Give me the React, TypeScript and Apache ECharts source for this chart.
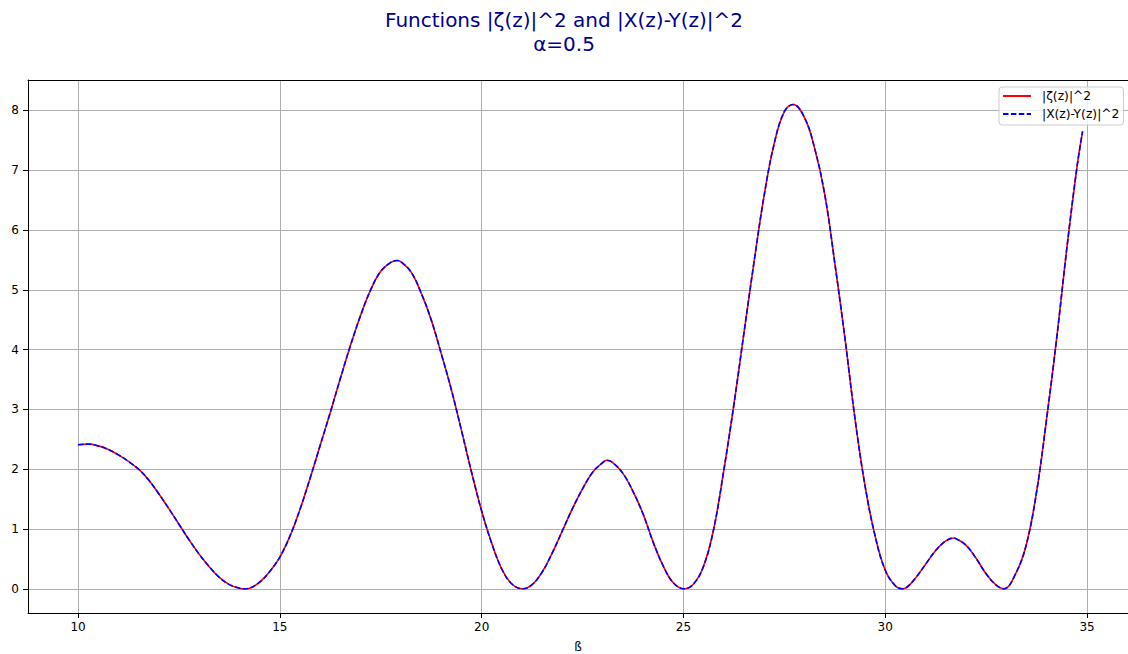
import React, { useEffect, useRef } from "react";
import * as echarts from "echarts";

// β values (x)
const beta = [
  10.0, 10.25, 10.5, 10.75, 11.0, 11.25, 11.5, 11.75, 12.0, 12.25, 12.5, 12.75,
  13.0, 13.25, 13.5, 13.75, 14.0, 14.13, 14.25, 14.5, 14.75, 15.0, 15.25, 15.5,
  15.75, 16.0, 16.25, 16.5, 16.75, 17.0, 17.25, 17.5, 17.75, 17.9, 18.0, 18.25,
  18.5, 18.75, 19.0, 19.25, 19.5, 19.75, 20.0, 20.25, 20.5, 20.75, 21.02, 21.25,
  21.5, 21.75, 22.0, 22.25, 22.5, 22.75, 23.0, 23.1, 23.25, 23.5, 23.75, 24.0,
  24.25, 24.5, 24.75, 25.01, 25.25, 25.5, 25.75, 26.0, 26.25, 26.5, 26.75, 27.0,
  27.25, 27.5, 27.72, 28.0, 28.25, 28.5, 28.75, 29.0, 29.25, 29.5, 29.75, 30.0,
  30.25, 30.42, 30.5, 30.75, 31.0, 31.25, 31.5, 31.7, 31.75, 32.0, 32.25, 32.5,
  32.75, 32.94, 33.25, 33.5, 33.75, 34.0, 34.25, 34.5, 34.75, 34.89,
];

// |ζ(z)|^2 values
const zetaSq = [
  2.41, 2.42, 2.39, 2.33, 2.24, 2.13, 2.0, 1.82, 1.59, 1.34, 1.08, 0.82,
  0.58, 0.37, 0.19, 0.07, 0.01, 0.0, 0.01, 0.11, 0.29, 0.53, 0.88, 1.33,
  1.85, 2.4, 2.95, 3.52, 4.07, 4.57, 5.0, 5.31, 5.46, 5.49, 5.47, 5.3,
  4.95, 4.5, 3.93, 3.33, 2.65, 1.95, 1.3, 0.76, 0.33, 0.08, 0.0, 0.07,
  0.28, 0.6, 0.97, 1.34, 1.67, 1.95, 2.11, 2.15, 2.11, 1.93, 1.63, 1.25,
  0.78, 0.38, 0.1, 0.0, 0.08, 0.38, 1.0, 1.98, 3.08, 4.28, 5.47, 6.58,
  7.45, 7.98, 8.1, 7.88, 7.37, 6.6, 5.45, 4.2, 2.85, 1.72, 0.88, 0.31,
  0.05, 0.0, 0.01, 0.18, 0.41, 0.64, 0.8, 0.85, 0.84, 0.73, 0.51, 0.25,
  0.06, 0.0, 0.28, 0.75, 1.62, 2.85, 4.2, 5.7, 7.05, 7.65,
];

// |X(z)-Y(z)|^2 values (coincide with the red curve)
const xyDiffSq = [
  2.41, 2.42, 2.39, 2.33, 2.24, 2.13, 2.0, 1.82, 1.59, 1.34, 1.08, 0.82,
  0.58, 0.37, 0.19, 0.07, 0.01, 0.0, 0.01, 0.11, 0.29, 0.53, 0.88, 1.33,
  1.85, 2.4, 2.95, 3.52, 4.07, 4.57, 5.0, 5.31, 5.46, 5.49, 5.47, 5.3,
  4.95, 4.5, 3.93, 3.33, 2.65, 1.95, 1.3, 0.76, 0.33, 0.08, 0.0, 0.07,
  0.28, 0.6, 0.97, 1.34, 1.67, 1.95, 2.11, 2.15, 2.11, 1.93, 1.63, 1.25,
  0.78, 0.38, 0.1, 0.0, 0.08, 0.38, 1.0, 1.98, 3.08, 4.28, 5.47, 6.58,
  7.45, 7.98, 8.1, 7.88, 7.37, 6.6, 5.45, 4.2, 2.85, 1.72, 0.88, 0.31,
  0.05, 0.0, 0.01, 0.18, 0.41, 0.64, 0.8, 0.85, 0.84, 0.73, 0.51, 0.25,
  0.06, 0.0, 0.28, 0.75, 1.62, 2.85, 4.2, 5.7, 7.05, 7.65,
];

const xTicks = [10, 15, 20, 25, 30, 35];
const yTicks = [0, 1, 2, 3, 4, 5, 6, 7, 8];

const seriesNames = ["|ζ(z)|^2", "|X(z)-Y(z)|^2"];
const titleText = "Functions |ζ(z)|^2 and |X(z)-Y(z)|^2\nα=0.5";
const xName = "ß";

const FONT = "DejaVu Sans";

export default function App() {
  const ref = useRef<HTMLDivElement>(null);

  useEffect(() => {
    if (!ref.current) return;
    const chart = echarts.init(ref.current, undefined, { renderer: "svg" });
    const zetaData = beta.map((b, i) => [b, zetaSq[i]]);
    const xyData = beta.map((b, i) => [b, xyDiffSq[i]]);
    const xMin = 8.76;
    const xMax = 36.015;
    chart.setOption({
      animation: false,
      backgroundColor: "#ffffff",
      textStyle: { fontFamily: FONT },
      title: {
        text: titleText,
        left: "center",
        top: 3,
        textStyle: {
          fontFamily: FONT,
          fontSize: 20,
          fontWeight: "normal",
          color: "#00008b",
          lineHeight: 24,
        },
      },
      legend: {
        orient: "vertical",
        left: 999,
        top: 87,
        padding: [3, 4, 5, 3],
        itemWidth: 28,
        itemHeight: 14,
        itemGap: 6,
        backgroundColor: "rgba(255,255,255,0.8)",
        borderColor: "#cccccc",
        borderWidth: 1,
        borderRadius: 3,
        itemStyle: { opacity: 0 },
        textStyle: {
          fontFamily: FONT,
          fontSize: 12.3,
          color: "#000000",
          padding: [0, 0, 0, 6],
        },
        data: seriesNames,
      },
      grid: {
        left: 28,
        top: 80,
        width: 1100,
        height: 533,
        containLabel: false,
        outerBoundsMode: "none",
      },
      xAxis: [
        {
          type: "value",
          position: "bottom",
          min: xMin,
          max: xMax,
          name: xName,
          nameLocation: "middle",
          nameGap: 28,
          nameTextStyle: { fontFamily: FONT, fontSize: 12, color: "#000000" },
          axisLine: { show: true, onZero: false, lineStyle: { color: "#000000", width: 1 } },
          axisTick: { show: true, length: 5, customValues: xTicks, lineStyle: { color: "#000000" } },
          axisLabel: {
            customValues: xTicks,
            fontFamily: FONT,
            fontSize: 12,
            color: "#000000",
            margin: 8,
          },
          splitLine: { show: true, lineStyle: { color: "#b0b0b0", width: 1 } },
        },
        {
          type: "value",
          position: "top",
          min: xMin,
          max: xMax,
          axisLine: { show: true, onZero: false, lineStyle: { color: "#000000", width: 1 } },
          axisTick: { show: false },
          axisLabel: { show: false },
          splitLine: { show: false },
        },
      ],
      yAxis: {
        type: "value",
        min: -0.405,
        max: 8.51,
        axisLine: { show: true, onZero: false, lineStyle: { color: "#000000", width: 1 } },
        axisTick: { show: true, length: 5, customValues: yTicks, lineStyle: { color: "#000000" } },
        axisLabel: {
          customValues: yTicks,
          fontFamily: FONT,
          fontSize: 12,
          color: "#000000",
          margin: 9,
        },
        splitLine: { show: true, lineStyle: { color: "#b0b0b0", width: 1 } },
      },
      series: [
        {
          name: seriesNames[0],
          type: "line",
          xAxisIndex: 0,
          data: zetaData,
          symbol: "none",
          smooth: 0.4,
          lineStyle: { color: "#ff0000", width: 1.6, type: "solid" },
          itemStyle: { color: "#ff0000" },
          silent: true,
        },
        {
          name: seriesNames[1],
          type: "line",
          xAxisIndex: 0,
          data: xyData,
          symbol: "none",
          smooth: 0.4,
          lineStyle: { color: "#0000ff", width: 1.6, type: [5.5, 2.4] },
          itemStyle: { color: "#0000ff" },
          silent: true,
        },
      ],
    });
    return () => chart.dispose();
  }, []);

  return (
    <div
      ref={ref}
      style={{ position: "fixed", left: 0, top: 0, width: 1128, height: 654 }}
    />
  );
}
